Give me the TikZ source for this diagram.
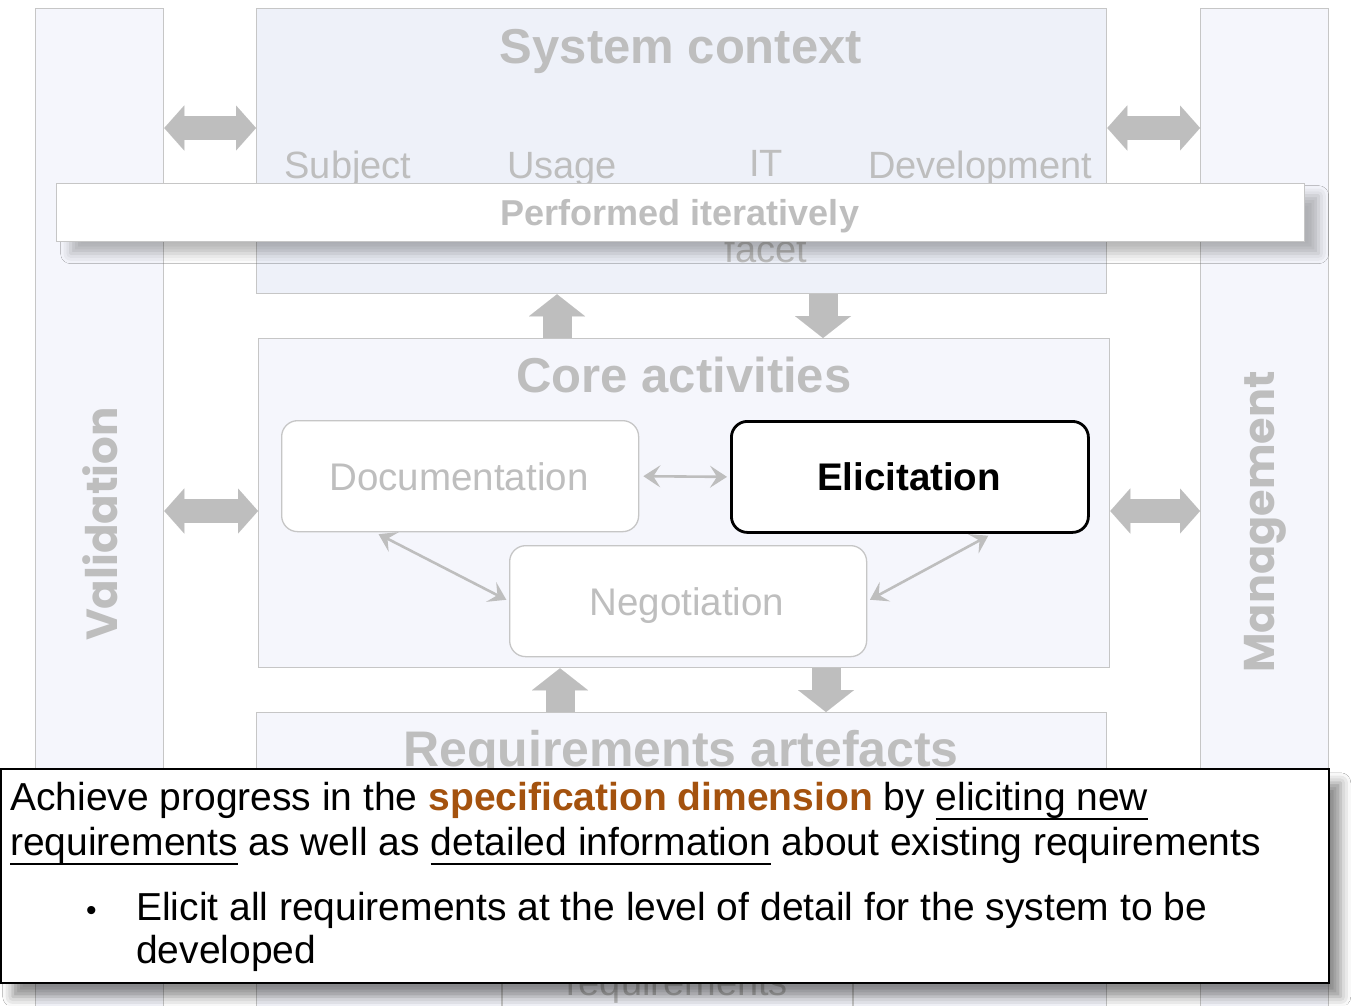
\documentclass[tikz,border=0pt]{standalone}
\usepackage{fontspec}
\setmainfont{Liberation Sans}
\newfontfamily\colfont{Poppins}
\usetikzlibrary{positioning,arrows.meta,shadows.blur}

\definecolor{areafill}{HTML}{F5F6FC}
\definecolor{ctxfill}{HTML}{EEF1F9}
\definecolor{areadraw}{HTML}{C6C6C6}
\definecolor{fadegray}{HTML}{BEBEBE}
\definecolor{specbrown}{HTML}{A4520E}

\newcommand{\fs}[1]{\fontsize{#1}{#1}\selectfont}
\newcommand{\undl}[1]{\setbox0\hbox{#1}\rlap{\rule[-10pt]{\wd0}{2.6pt}}\box0\relax}

\tikzset{
  area/.style={draw=areadraw, fill=areafill, line width=1.3pt, inner sep=0pt, anchor=north west},
  title/.style={text=fadegray, font=\bfseries\fs{49}, anchor=base, inner sep=0pt},
  facet/.style={text=fadegray, font=\fs{38}, anchor=base, inner sep=0pt},
  activity/.style={draw=areadraw, fill=white, line width=1.3pt, rounded corners=16pt,
    minimum width=357pt, minimum height=111pt, anchor=north west, inner sep=0pt},
  acttext/.style={text=fadegray, font=\fs{38.5}, anchor=base, inner sep=0pt},
  wideh/.style={draw=fadegray, line width=24pt,
    {Triangle[length=20pt,width=45pt,line width=0.01pt]}-{Triangle[length=20pt,width=45pt,line width=0.01pt]}},
  widev/.style={draw=fadegray, line width=29pt,
    -{Triangle[length=22pt,width=56pt,line width=0.01pt]}},
  thinarrow/.style={draw=fadegray, line width=2.6pt, shorten <=4pt, shorten >=3pt,
    {Stealth[length=17pt,width=22pt,inset=7pt]}-{Stealth[length=17pt,width=22pt,inset=7pt]}},
  calltext/.style={anchor=north west, inner sep=0pt, align=left}
}

\begin{document}
\begin{tikzpicture}[x=1pt,y=-1pt]

\useasboundingbox (0,0) rectangle (1355,1005);
\fill[white] (0,0) rectangle (1355,1005);

% side columns
\node[area, minimum width=128pt, minimum height=1010pt] (valid) at (35,8) {};
\node[area, minimum width=128pt, minimum height=1010pt] (mgmt) at (1200,8) {};
\node[text=fadegray, font=\colfont\bfseries\fs{43.5}, rotate=90] (validtxt) at (100,524) {Validation};
\node[text=fadegray, font=\colfont\bfseries\fs{43}, rotate=90] (mgmttxt) at (1265,522) {Management};

% system context
\node[area, fill=ctxfill, minimum width=850pt, minimum height=285pt] (sys) at (256,8) {};
\node[title] (systxt) at (681,63) {System context};
\node[facet] (subj) at (348,178) {Subject};
\node[facet] (usage) at (562,178) {Usage};
\node[facet] (it) at (766,176) {IT};
\node[facet] (devel) at (980,178) {Development};
\node[facet] (facet) at (766,262) {facet};

\node[draw=areadraw, fill=white, line width=1.3pt, minimum width=1248pt, minimum height=58pt,
  anchor=north west, inner sep=0pt,
  blur shadow={shadow xshift=14pt, shadow yshift=-12pt, shadow blur radius=10pt, shadow opacity=28}]
  (iter) at (56,183) {};
\node[title, font=\bfseries\fs{36}] (itertxt) at (680,225) {Performed iteratively};

% core activities
\node[area, minimum width=851pt, minimum height=329pt] (core) at (258,338) {};
\node[title] (coretxt) at (684,392) {Core activities};

\node[activity] (docu) at (281,420) {};
\node[acttext] at (459,490) {Documentation};
\node[activity, draw=black, line width=2.8pt] (elic) at (730,420) {};
\node[acttext, text=black, font=\bfseries\fs{38.5}] at (909,490) {Elicitation};
\node[activity] (nego) at (509,545) {};
\node[acttext] at (687,615) {Negotiation};

\draw[thinarrow] (docu.east) -- (elic.west);
\draw[thinarrow] ([xshift=94pt]docu.south west) -- (nego.west);
\draw[thinarrow] ([xshift=-98pt]elic.south east) -- (nego.east);

% requirements artefacts
\node[area, minimum width=850pt, minimum height=300pt] (req) at (256,712) {};
\node[title, font=\bfseries\fs{50}] (reqtxt) at (681,766) {Requirements artefacts};
\draw[draw=areadraw, line width=1.3pt] (502,930) -- (502,1010);
\draw[draw=areadraw, line width=1.3pt] (853,930) -- (853,1010);
\node[facet] (reqs) at (677,995) {requirements};

% wide arrows
\draw[wideh] (valid.east |- 0,128) -- (sys.west |- 0,128);
\draw[wideh] (sys.east |- 0,128) -- (mgmt.west |- 0,128);
\draw[wideh] (valid.east |- 0,511) -- (core.west |- 0,511);
\draw[wideh] (core.east |- 0,511) -- (mgmt.west |- 0,511);
\draw[widev] (557,0 |- core.north) -- (557,0 |- sys.south);
\draw[widev] (823,0 |- sys.south) -- (823,0 |- core.north);
\draw[widev] (560,0 |- req.north) -- (560,0 |- core.south);
\draw[widev] (826,0 |- core.south) -- (826,0 |- req.north);

% callout
\node[draw=black, fill=white, line width=1.5pt, minimum width=1328pt, minimum height=214pt,
  anchor=north west, inner sep=0pt,
  blur shadow={shadow xshift=12pt, shadow yshift=-14pt, shadow blur radius=10pt, shadow opacity=45}]
  (callout) at (0,768) {};
\node[calltext, font=\fontsize{39}{45}\selectfont] (goal) at (10,782)
  {Achieve progress in the {\color{specbrown}\bfseries specification dimension} by \undl{eliciting new}\\
   \undl{requirements} as well as \undl{detailed information} about existing requirements};
\node[anchor=base west, inner sep=0pt, font=\fs{30}] (dot) at (86,920) {\textbullet};
\node[calltext, font=\fontsize{39}{43}\selectfont] (elicit) at (136,892)
  {Elicit all requirements at the level of detail for the system to be\\developed};

\end{tikzpicture}
\end{document}
